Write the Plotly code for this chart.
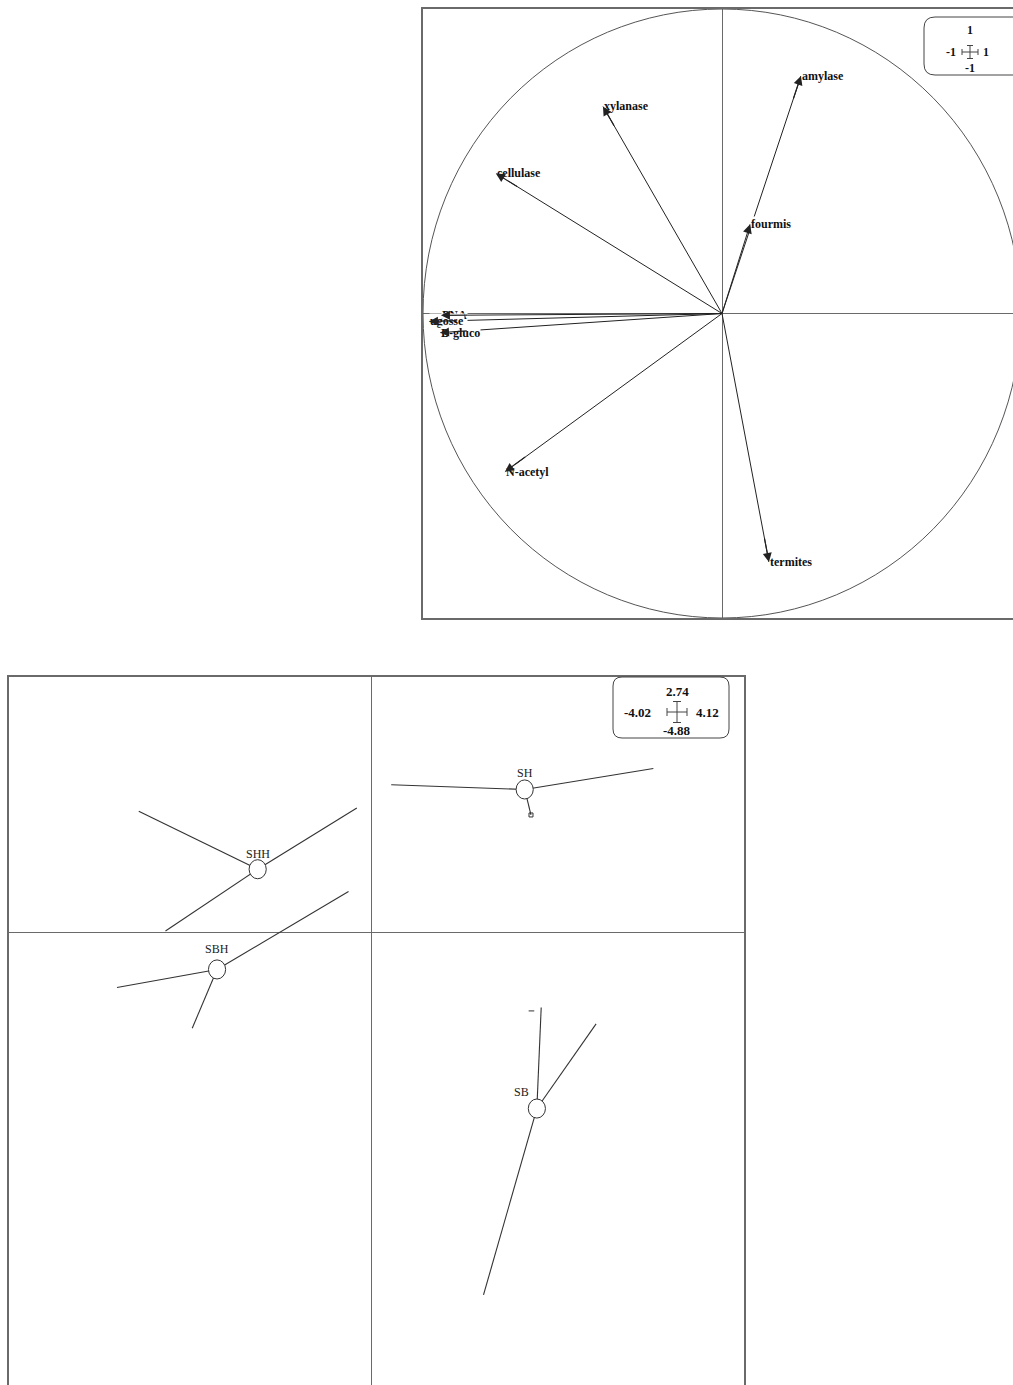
import plotly.graph_objects as go

W, H = 1013, 1385

# --- correlation circle (variables) ---
var_names = ["amylase", "xylanase", "cellulase", "fourmis", "termites",
             "N-acetyl", "PNA", "ugosse", "B-gluco"]
var_x = [0.264, -0.398, -0.756, 0.094, 0.157, -0.726, -0.940, -0.980, -0.943]
var_y = [0.780, 0.680, 0.460, 0.293, -0.816, -0.520, -0.006, -0.026, -0.063]

# --- factorial map of the sites (class centroids + stars) ---
grp_names = ["SHH", "SH", "SBH", "SB"]
grp_cx = [-1.266, 1.691, -1.716, 1.826]
grp_cy = [0.682, 1.536, -0.391, -1.880]
shh_x = [-2.583, -0.168, -2.287]
shh_y = [1.303, 1.337, 0.021]
sh_x = [0.213, 3.116, 1.761]
sh_y = [1.586, 1.760, 1.263]
sbh_x = [-0.260, -2.824, -1.991]
sbh_y = [0.444, -0.585, -1.021]
sb_x = [1.874, 2.482, 1.235]
sb_y = [-0.798, -0.973, -3.876]
grp_pts_x = [shh_x, sh_x, sbh_x, sb_x]
grp_pts_y = [shh_y, sh_y, sbh_y, sb_y]
lone_x = [1.761, 1.766]
lone_y = [1.263, -0.835]

lim_top = ["1", "-1", "1", "-1"]
lim_bot = ["2.74", "-4.02", "4.12", "-4.88"]

FRAME = "#6a6a6a"
INK = "#222222"


def px(x):
    return x / W


def py(y):
    return 1 - y / H


fig = go.Figure()

# arrows: shafts
sx, sy = [], []
for x, y in zip(var_x, var_y):
    sx += [0, x, None]
    sy += [0, y, None]
fig.add_trace(go.Scatter(x=sx, y=sy, mode="lines", line=dict(color=INK, width=1),
                         hoverinfo="skip", xaxis="x", yaxis="y"))

# stars
lx, ly = [], []
for cx, cy, xs, ys in zip(grp_cx, grp_cy, grp_pts_x, grp_pts_y):
    for x, y in zip(xs, ys):
        lx += [cx, x, None]
        ly += [cy, y, None]
fig.add_trace(go.Scatter(x=lx, y=ly, mode="lines", line=dict(color="#333333", width=1.1),
                         hoverinfo="skip", xaxis="x2", yaxis="y2"))
fig.add_trace(go.Scatter(x=lone_x, y=lone_y, mode="markers",
                         marker=dict(symbol=["square-open", "line-ew-open"], size=4,
                                     color="#333333", line=dict(width=1, color="#333333")),
                         hoverinfo="skip", xaxis="x2", yaxis="y2"))

shapes = []
# unit circle
shapes.append(dict(type="circle", xref="x", yref="y", x0=-1, y0=-1, x1=1, y1=1,
                   line=dict(color="#555555", width=1)))
# class ellipses
for cx, cy in zip(grp_cx, grp_cy):
    shapes.append(dict(type="circle", xref="x2", yref="y2",
                       x0=cx - 0.095, x1=cx + 0.095, y0=cy - 0.102, y1=cy + 0.102,
                       fillcolor="white", line=dict(color="#333333", width=1)))


def rounded_box(l, t, r, b, rad):
    pts = (f"M {px(l + rad)},{py(t)} L {px(r - rad)},{py(t)} "
           f"Q {px(r)},{py(t)} {px(r)},{py(t + rad)} L {px(r)},{py(b - rad)} "
           f"Q {px(r)},{py(b)} {px(r - rad)},{py(b)} L {px(l + rad)},{py(b)} "
           f"Q {px(l)},{py(b)} {px(l)},{py(b - rad)} L {px(l)},{py(t + rad)} "
           f"Q {px(l)},{py(t)} {px(l + rad)},{py(t)} Z")
    return dict(type="path", xref="paper", yref="paper", path=pts,
                fillcolor="white", line=dict(color="#444444", width=1))


def cross(cx, cy, w, h, tk):
    out = []
    seg = [(cx - w / 2, cy, cx + w / 2, cy), (cx, cy - h / 2, cx, cy + h / 2),
           (cx - w / 2, cy - tk / 2, cx - w / 2, cy + tk / 2),
           (cx + w / 2, cy - tk / 2, cx + w / 2, cy + tk / 2),
           (cx - tk / 2, cy - h / 2, cx + tk / 2, cy - h / 2),
           (cx - tk / 2, cy + h / 2, cx + tk / 2, cy + h / 2)]
    for x0, y0, x1, y1 in seg:
        out.append(dict(type="line", xref="paper", yref="paper",
                        x0=px(x0), y0=py(y0), x1=px(x1), y1=py(y1),
                        line=dict(color="#444444", width=1)))
    return out


shapes.append(rounded_box(924, 17, 1040, 75, 11))
shapes += cross(970, 52, 16, 13, 6)
shapes.append(rounded_box(613, 677, 729, 738, 9))
shapes += cross(677, 712, 20, 21, 8)

ann = []
lab_font = dict(family="Liberation Serif", size=12, color="#111111")
for n, x, y in zip(var_names, var_x, var_y):
    ann.append(dict(x=x, y=y, xref="x", yref="y", text="<b>%s</b>" % n, showarrow=False,
                    xanchor="left", yanchor="middle", font=lab_font,
                    bgcolor="white", borderpad=0))
for x, y in zip(var_x, var_y):
    ann.append(dict(x=x, y=y, xref="x", yref="y", ax=x * 0.9, ay=y * 0.9,
                    axref="x", ayref="y", text="", showarrow=True,
                    arrowhead=2, arrowsize=1.5, arrowwidth=1.2, arrowcolor=INK))

grp_shift = [(0, 15), (0, 16), (0, 20), (-15, 17)]
for n, cx, cy, (dx, dy) in zip(grp_names, grp_cx, grp_cy, grp_shift):
    ann.append(dict(x=cx, y=cy, xref="x2", yref="y2", text=n, showarrow=False,
                    xshift=dx, yshift=dy, font=dict(family="Liberation Serif", size=12,
                                                    color="#222222")))

box_font = dict(family="Liberation Serif", size=12, color="#111111")
ann += [
    dict(x=px(970), y=py(30), text="<b>%s</b>" % lim_top[0], xanchor="center"),
    dict(x=px(958), y=py(52), text="<b>%s</b>" % lim_top[1], xanchor="right"),
    dict(x=px(981), y=py(52), text="<b>%s</b>" % lim_top[2], xanchor="left"),
    dict(x=px(970), y=py(68), text="<b>%s</b>" % lim_top[3], xanchor="center"),
]
box_font2 = dict(family="Liberation Serif", size=13, color="#111111")
ann2 = [
    dict(x=px(677), y=py(691), text="<b>%s</b>" % lim_bot[0], xanchor="center"),
    dict(x=px(653), y=py(712), text="<b>%s</b>" % lim_bot[1], xanchor="right"),
    dict(x=px(694), y=py(712), text="<b>%s</b>" % lim_bot[2], xanchor="left"),
    dict(x=px(677), y=py(731), text="<b>%s</b>" % lim_bot[3], xanchor="center"),
]
for a in ann[-4:]:
    a.update(xref="paper", yref="paper", showarrow=False, yanchor="middle", font=box_font)
for a in ann2:
    a.update(xref="paper", yref="paper", showarrow=False, yanchor="middle", font=box_font2)
ann += ann2

ax_common = dict(showgrid=False, showticklabels=False, ticks="", zeroline=True,
                 zerolinecolor=FRAME, zerolinewidth=1, showline=True,
                 linecolor=FRAME, linewidth=1.5, fixedrange=True)

fig.update_layout(
    width=W, height=H, margin=dict(l=0, r=0, t=0, b=0),
    paper_bgcolor="white", plot_bgcolor="white", showlegend=False,
    xaxis=dict(domain=[px(423), 1], range=[-1, -1 + 590 / 299], mirror=True,
               anchor="y", **ax_common),
    yaxis=dict(domain=[py(618), py(9)], range=[-1, 1], mirror=False,
               anchor="x", **ax_common),
    xaxis2=dict(domain=[px(9), px(744)], range=[-4.02, 4.12], mirror=True,
                anchor="y2", **ax_common),
    yaxis2=dict(domain=[0, py(677)], range=[-4.84, 2.74], mirror=True,
                anchor="x2", **ax_common),
    shapes=shapes, annotations=ann,
)

fig.write_html("out.html", config={"displayModeBar": False},
               post_script="document.body.style.margin='0';"
                           "document.body.style.overflow='hidden';")
